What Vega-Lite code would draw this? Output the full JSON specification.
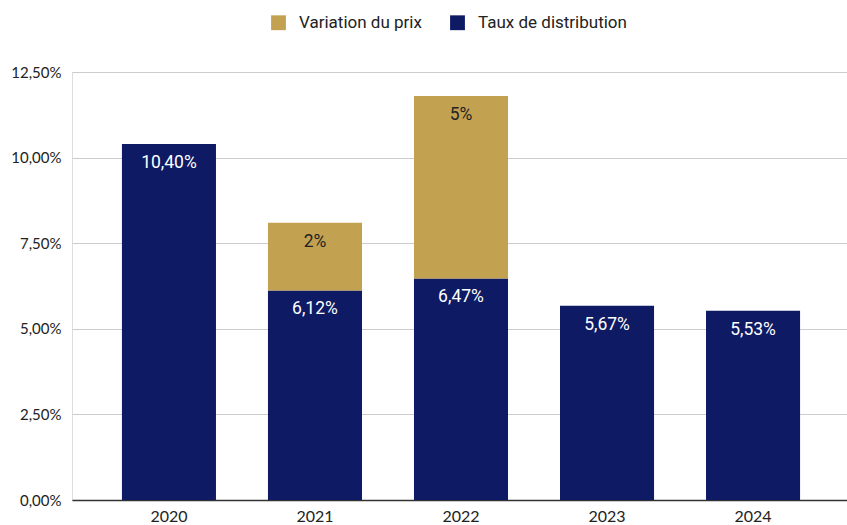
{
  "$schema": "https://vega.github.io/schema/vega-lite/v6.json",
  "width": 778,
  "height": 428,
  "autosize": {"type": "none"},
  "padding": {"left": 72, "top": 72, "right": 0, "bottom": 25},
  "background": "white",
  "data": {"values": [
    {"annee": "2020", "serie": "Taux de distribution", "valeur": 10.40, "etiquette": "10,40%"},
    {"annee": "2021", "serie": "Taux de distribution", "valeur": 6.12, "etiquette": "6,12%"},
    {"annee": "2021", "serie": "Variation du prix", "valeur": 1.98, "etiquette": "2%"},
    {"annee": "2022", "serie": "Taux de distribution", "valeur": 6.47, "etiquette": "6,47%"},
    {"annee": "2022", "serie": "Variation du prix", "valeur": 5.33, "etiquette": "5%"},
    {"annee": "2023", "serie": "Taux de distribution", "valeur": 5.67, "etiquette": "5,67%"},
    {"annee": "2024", "serie": "Taux de distribution", "valeur": 5.53, "etiquette": "5,53%"}
  ]},
  "encoding": {
    "x": {
      "field": "annee", "type": "nominal", "title": null,
      "scale": {"paddingInner": 0.356, "paddingOuter": 0.342},
      "axis": {"labelAngle": 0, "ticks": false, "domainColor": "#333333", "domainWidth": 1.5, "labelFont": "Lato", "labelFontSize": 16, "labelColor": "#222222", "labelPadding": 8}
    },
    "y": {
      "field": "valeur", "type": "quantitative", "stack": "zero", "title": null,
      "scale": {"domain": [0, 12.5], "nice": false},
      "axis": {"values": [0, 2.5, 5, 7.5, 10, 12.5], "labelExpr": "replace(format(datum.value, '.2f'), '.', ',') + '%'", "domain": false, "ticks": false, "gridColor": "#cccccc", "labelFont": "Lato", "labelFontSize": 15, "labelColor": "#222222", "labelPadding": 11}
    },
    "order": {"field": "serie", "type": "nominal", "sort": "ascending"}
  },
  "layer": [
    {
      "mark": {"type": "bar"},
      "encoding": {
        "color": {
          "field": "serie", "type": "nominal", "title": null,
          "scale": {"domain": ["Variation du prix", "Taux de distribution"], "range": ["#C2A251", "#0E1A64"]},
          "legend": {"orient": "none", "legendX": 198, "legendY": -58, "direction": "horizontal", "symbolType": "square", "symbolSize": 220, "symbolStrokeWidth": 0, "labelFont": "Roboto", "labelFontSize": 17, "labelColor": "#222222", "columnPadding": 27, "labelOffset": 12}
        }
      }
    },
    {
      "mark": {"type": "text", "baseline": "middle", "dy": 19, "font": "Roboto", "fontSize": 17.5},
      "encoding": {
        "text": {"field": "etiquette"},
        "detail": {"field": "serie"},
        "color": {"condition": {"test": "datum.serie == 'Variation du prix'", "value": "#222222"}, "value": "#ffffff"}
      }
    }
  ]
}
